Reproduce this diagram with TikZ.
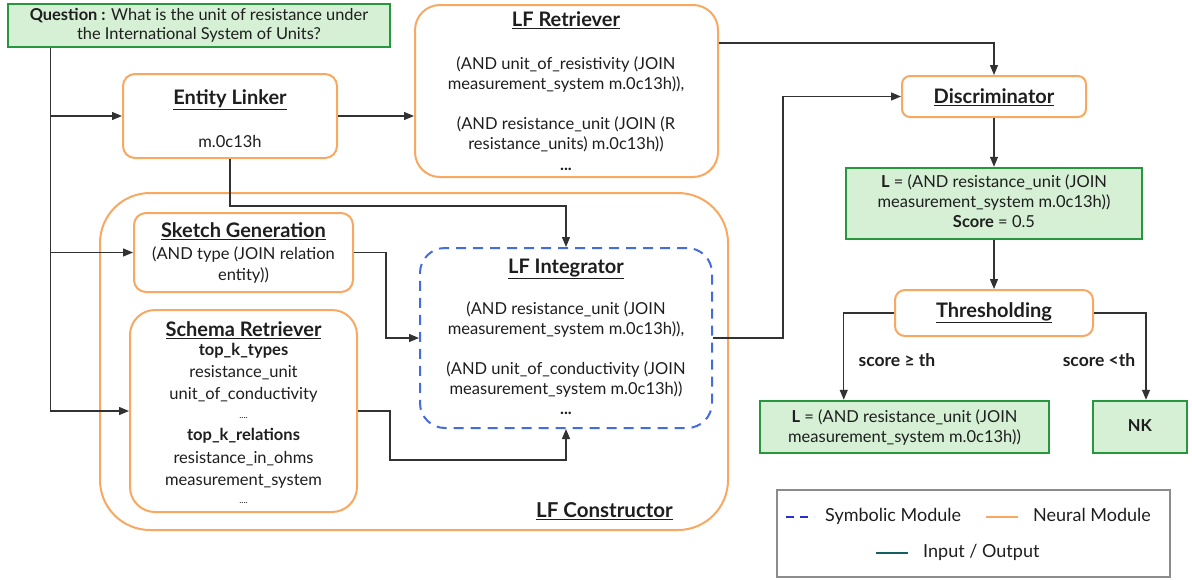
\documentclass[tikz,border=0pt]{standalone}
\usepackage{fontspec}
\setmainfont{Lato}
\usetikzlibrary{arrows.meta,calc}

\definecolor{neural}{RGB}{249,168,98}
\definecolor{symb}{RGB}{68,108,220}
\definecolor{iofill}{RGB}{213,240,213}
\definecolor{ioedge}{RGB}{40,150,60}
\definecolor{wire}{RGB}{50,50,50}
\definecolor{ink}{RGB}{30,30,30}
\definecolor{legframe}{RGB}{140,140,140}
\definecolor{iodark}{RGB}{20,95,95}
\definecolor{legblue}{RGB}{45,45,215}

\tikzset{
  neuralbox/.style={draw=neural, line width=2pt, fill=white, rounded corners=#1, inner sep=0pt},
  symbbox/.style={draw=symb, line width=2pt, dash pattern=on 10pt off 7pt, rounded corners=#1, inner sep=0pt},
  iobox/.style={draw=ioedge, fill=iofill, line width=2.5pt, inner sep=0pt},
  txt/.style={font=\fontsize{16.5}{20}\selectfont, text=ink, text height=12pt, text depth=4pt, inner sep=0pt},
  btxt/.style={txt, font=\fontsize{16.5}{20}\selectfont\bfseries},
  ttl/.style={font=\fontsize{20}{22}\selectfont\bfseries, text=ink, inner sep=0pt},
  legtxt/.style={txt, font=\fontsize{18}{20}\selectfont, anchor=west},
  link/.style={draw=wire, line width=1.3pt},
  arr/.style={link, -{Triangle[length=10pt,width=8pt]}},
}

\begin{document}
\begin{tikzpicture}[x=1pt,y=-1pt]
\useasboundingbox (0,0) rectangle (1192,579);

% ---- boxes ----
\node[iobox, minimum width=382pt, minimum height=43pt, align=center,
      font=\fontsize{16.4}{19}\selectfont, text=ink] (q) at (199,25.5)
  {\textbf{Question :} What is the unit of resistance under\\the International System of Units?};

\node[neuralbox=50pt, minimum width=628pt, minimum height=337pt] (cons) at (414,361.5) {};
\node[neuralbox=12pt, minimum width=214pt, minimum height=84pt] (el) at (230,116) {};
\node[neuralbox=25pt, minimum width=303pt, minimum height=172pt] (lfr) at (566.5,91) {};
\node[neuralbox=8pt, minimum width=184pt, minimum height=41pt] (disc) at (994,96.5) {};
\node[iobox, minimum width=296pt, minimum height=71pt] (lsel) at (994,203.5) {};
\node[neuralbox=10pt, minimum width=198pt, minimum height=46pt] (thr) at (994,313) {};
\node[iobox, minimum width=289pt, minimum height=52pt] (lfin) at (904.5,427) {};
\node[iobox, minimum width=94pt, minimum height=52pt] (nk) at (1140,427) {};
\node[neuralbox=12pt, minimum width=219pt, minimum height=79pt] (sk) at (243.5,252.5) {};
\node[neuralbox=25pt, minimum width=227pt, minimum height=202pt] (sch) at (243.5,411) {};
\node[symbbox=25pt, minimum width=292pt, minimum height=180pt] (integ) at (566,338) {};

% ---- Entity Linker ----
\node[ttl] (elt) at (230,100) {\underline{Entity Linker}};
\node[txt] (el1) at (230,143) {m.0c13h};

% ---- LF Retriever ----
\node[ttl] (lfrt) at (566,20) {\underline{LF Retriever}};
\node[txt] (lr1) at (566,65) {(AND unit\_of\_resistivity (JOIN};
\node[txt] (lr2) at (566,85) {measurement\_system m.0c13h)),};
\node[txt] (lr3) at (566,125) {(AND resistance\_unit (JOIN (R};
\node[txt] (lr4) at (566,145) {resistance\_units) m.0c13h))};
\node[txt] (lr5) at (566,166) {\textbf{...}};

% ---- Discriminator and its output ----
\node[ttl] (disct) at (994,97) {\underline{Discriminator}};
\node[txt] (ls1) at (994,183) {\textbf{L} = (AND resistance\_unit (JOIN};
\node[txt] (ls2) at (994,203) {measurement\_system m.0c13h))};
\node[txt] (ls3) at (994,223) {\textbf{Score} = 0.5};

% ---- Thresholding ----
\node[ttl] (thrt) at (994,313) {\underline{Thresholding}};
\node[btxt, font=\fontsize{17.5}{20}\selectfont\bfseries] (ge) at (897,362) {score ≥ th};
\node[btxt, font=\fontsize{17.5}{20}\selectfont\bfseries] (lt) at (1099,362) {score <th};
\node[txt] (lf1) at (904.5,418) {\textbf{L} = (AND resistance\_unit (JOIN};
\node[txt] (lf2) at (904.5,438) {measurement\_system m.0c13h))};
\node[btxt] (nkt) at (1140,427) {NK};

% ---- Sketch Generation ----
\node[ttl] (skt) at (243.5,231) {\underline{Sketch Generation}};
\node[txt] (sk1) at (243.5,255) {(AND type (JOIN relation};
\node[txt] (sk2) at (243.5,276) {entity))};

% ---- Schema Retriever ----
\node[ttl] (scht) at (243.5,330) {\underline{Schema Retriever}};
\node[btxt] (sc1) at (243.5,351) {top\_k\_types};
\node[txt] (sc2) at (243.5,373) {resistance\_unit};
\node[txt] (sc3) at (243.5,395) {unit\_of\_conductivity};
\node[txt, font=\fontsize{9}{10}\selectfont] (sc4) at (243.5,414) {....};
\node[btxt] (sc5) at (243.5,436) {top\_k\_relations};
\node[txt] (sc6) at (243.5,459) {resistance\_in\_ohms};
\node[txt] (sc7) at (243.5,481) {measurement\_system};
\node[txt, font=\fontsize{9}{10}\selectfont] (sc8) at (243.5,499) {....};

% ---- LF Integrator ----
\node[ttl] (integt) at (566,269) {\underline{LF Integrator}};
\node[txt] (in1) at (566,310) {(AND resistance\_unit (JOIN};
\node[txt] (in2) at (566,330) {measurement\_system m.0c13h)),};
\node[txt] (in3) at (566,370) {(AND unit\_of\_conductivity (JOIN};
\node[txt] (in4) at (566,390) {measurement\_system m.0c13h))};
\node[txt] (in5) at (566,410) {\textbf{...}};

% ---- LF Constructor label ----
\node[ttl, font=\fontsize{20.5}{22}\selectfont\bfseries] (const) at (604.5,511) {\underline{LF Constructor}};

% ---- connectors ----
\path (q.south west) ++(44,0) coordinate (qd);
\draw[arr] (qd) |- (sch.west);
\draw[arr] (qd |- el.west) -- (el.west);
\draw[arr] (qd |- sk.west) -- (sk.west);
\draw[arr] (el.east) -- (el.east -| lfr.west);
\draw[arr] (el.south) -- ++(0,47) -| (integ.north);
\draw[arr] ($(lfr.north east)+(0,39)$) -| (disc.north);
\draw[arr] (integ.east) -- ++(70,0) |- (disc.west);
\draw[arr] (disc.south) -- (lsel.north);
\draw[arr] (lsel.south) -- (thr.north);
\draw[arr] (thr.west) -| ($(lfin.north west)+(85,0)$);
\draw[arr] (thr.east) -| ($(nk.north)+(6,0)$);
\draw[arr] (sk.east) -- ++(32,0) |- (integ.west);
\draw[arr] (sch.east) -- ++(32,0) -- ++(0,49) -| (integ.south);

% ---- legend ----
\node[draw=legframe, line width=2pt, minimum width=393pt, minimum height=87pt, inner sep=0pt] (leg) at (973.5,533.5) {};
\draw[legblue, line width=2pt, dash pattern=on 8pt off 6pt] (786,517) -- (814,517);
\node[legtxt] (legs) at (825,517) {Symbolic Module};
\draw[neural, line width=2pt] (986,517) -- (1018,517);
\node[legtxt] (legn) at (1033,517) {Neural Module};
\draw[iodark, line width=2pt] (876,553) -- (908,553);
\node[legtxt] (legi) at (923,553) {Input / Output};
\end{tikzpicture}
\end{document}
